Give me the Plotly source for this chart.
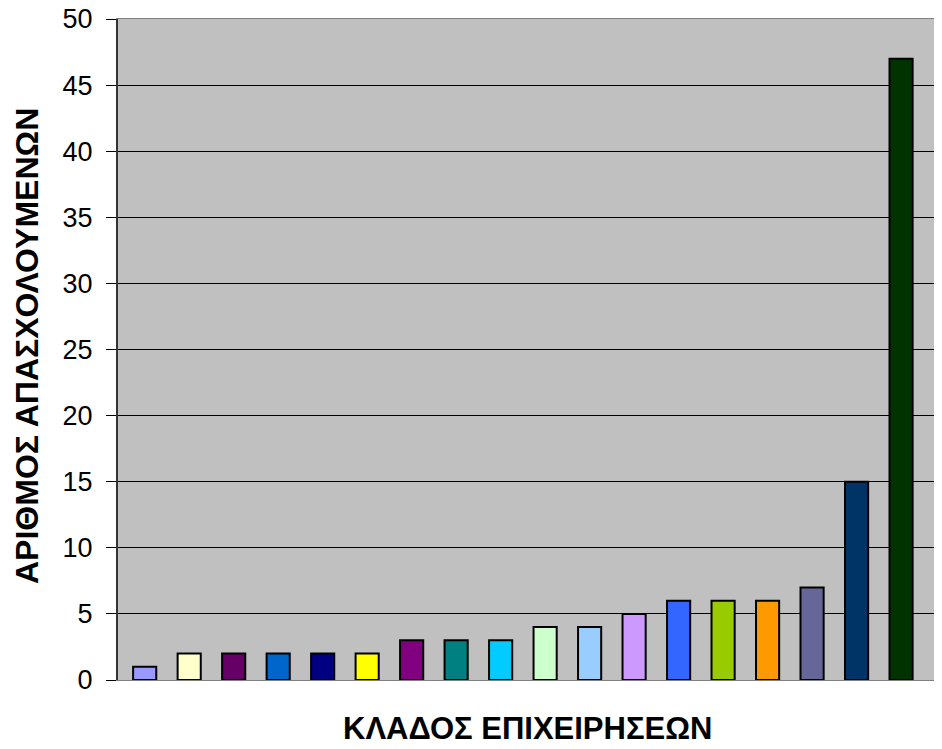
import plotly.graph_objects as go

categories = [f"K{i}" for i in range(1, 19)]
values = [1, 2, 2, 2, 2, 2, 3, 3, 3, 4, 4, 5, 6, 6, 6, 7, 15, 47]
colors = ["#9999FF", "#FFFFCC", "#660066", "#0066CC", "#000080", "#FFFF00",
          "#800080", "#008080", "#00CCFF", "#CCFFCC", "#99CCFF", "#CC99FF",
          "#3366FF", "#99CC00", "#FF9900", "#666699", "#003366", "#003300"]
y_ticks = [0, 5, 10, 15, 20, 25, 30, 35, 40, 45, 50]

# page has an 8px body offset; figure sized to compensate
W, H = 934, 741
L, R, T, B = 110, 0, 11, 69
PW, PH = W - L - R, H - T - B

fig = go.Figure(go.Bar(
    x=list(range(len(categories))), y=values,
    marker=dict(color=colors, line=dict(color="black", width=2)),
    width=0.52, hovertext=categories,
))

font = "Liberation Sans, Arial, sans-serif"
fig.update_layout(
    width=W, height=H,
    margin=dict(l=L, r=R, t=T, b=B, autoexpand=False),
    paper_bgcolor="white", plot_bgcolor="#C0C0C0",
    showlegend=False,
    font=dict(family=font, size=27, color="black"),
    xaxis=dict(range=[-0.6, 17.92], showticklabels=False, showgrid=False,
               zeroline=False, ticks="", showline=True, linecolor="#808080",
               linewidth=1, mirror=True),
    yaxis=dict(range=[0, 50], tickvals=y_ticks, showgrid=True, gridcolor="black",
               gridwidth=1, zeroline=False, ticks="outside", ticklen=10,
               tickcolor="black", tickwidth=1, showline=True, linecolor="#333333",
               linewidth=2, tickfont=dict(size=27, family=font), ticklabelstandoff=8,
               ticklabeloverflow="allow"),
    annotations=[
        dict(text="<b>ΑΡΙΘΜΟΣ ΑΠΑΣΧΟΛΟΥΜΕΝΩΝ</b>",
             x=(19 - L) / PW, y=1 - (338 - T) / PH,
             xref="paper", yref="paper", showarrow=False, textangle=-90,
             font=dict(size=32, family=font), xanchor="center", yanchor="middle"),
        dict(text="<b>ΚΛΑΔΟΣ ΕΠΙΧΕΙΡΗΣΕΩΝ</b>",
             x=(519 - L) / PW, y=-(720 - (H - B)) / PH,
             xref="paper", yref="paper", showarrow=False, font=dict(size=31, family=font),
             xanchor="center", yanchor="middle"),
    ],
)

fig.write_html("out.html")
